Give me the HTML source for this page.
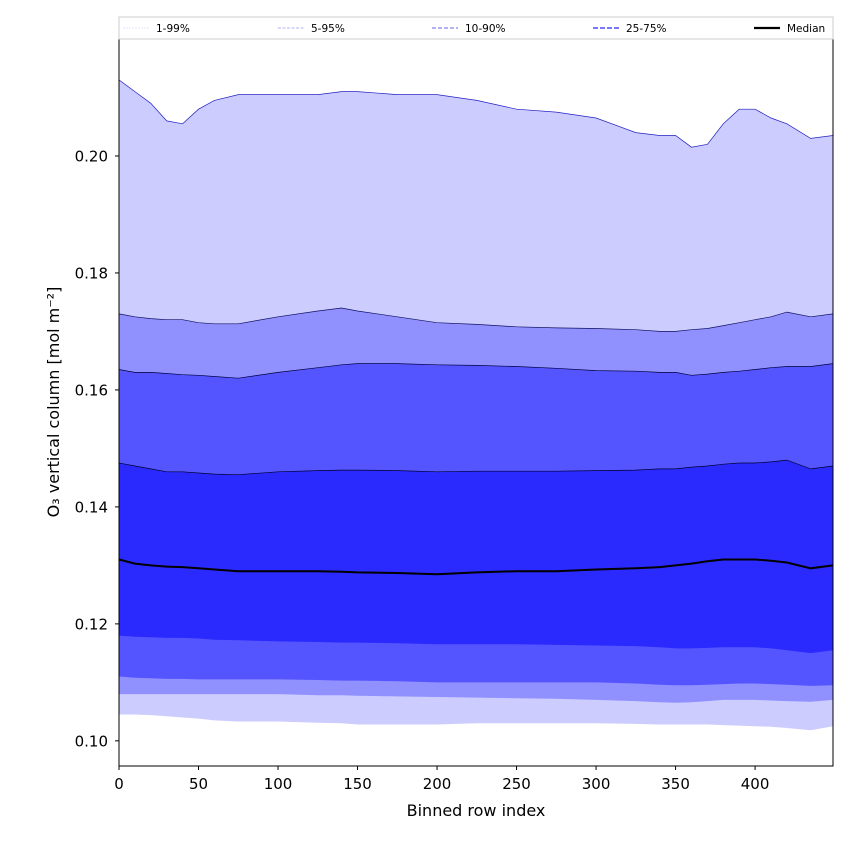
<!DOCTYPE html>
<html><head><meta charset="utf-8"><style>
body{margin:0;background:#fff;font-family:"DejaVu Sans","Liberation Sans",sans-serif;}
svg{display:block}
</style></head><body>
<svg id="chart" width="850" height="850" viewBox="0 0 850 850" xmlns="http://www.w3.org/2000/svg" font-family="DejaVu Sans, Liberation Sans, sans-serif">
<rect width="850" height="850" fill="#fff"/>
<g id="bands"></g>
<g id="axes"></g>
<g id="legend"></g>
</svg>
<script>
const xs = [0,10,20,30,40,50,60,75,100,125,140,150,175,200,225,250,275,300,325,340,350,360,370,380,390,400,410,420,435,449];
const p99 = [0.213,0.211,0.209,0.206,0.2055,0.208,0.2095,0.2105,0.2105,0.2105,0.211,0.211,0.2105,0.2105,0.2095,0.208,0.2075,0.2065,0.204,0.2035,0.2035,0.2015,0.202,0.2055,0.208,0.208,0.2065,0.2055,0.203,0.2035];
const p95 = [0.173,0.1725,0.1722,0.172,0.172,0.1715,0.1713,0.1713,0.1725,0.1735,0.174,0.1735,0.1725,0.1715,0.1712,0.1708,0.1706,0.1705,0.1703,0.170,0.170,0.1703,0.1705,0.171,0.1715,0.172,0.1725,0.1733,0.1725,0.173];
const p90 = [0.1635,0.163,0.163,0.1628,0.1626,0.1625,0.1623,0.162,0.163,0.1638,0.1643,0.1645,0.1645,0.1643,0.1642,0.164,0.1637,0.1633,0.1632,0.163,0.163,0.1625,0.1627,0.163,0.1632,0.1635,0.1638,0.164,0.164,0.1645];
const p75 = [0.1475,0.147,0.1465,0.146,0.146,0.1458,0.1456,0.1455,0.146,0.1462,0.1463,0.1463,0.1462,0.146,0.1461,0.1461,0.1461,0.1462,0.1463,0.1465,0.1465,0.1468,0.147,0.1473,0.1475,0.1475,0.1477,0.148,0.1465,0.147];
const med = [0.131,0.1303,0.130,0.1298,0.1297,0.1295,0.1293,0.129,0.129,0.129,0.1289,0.1288,0.1287,0.1285,0.1288,0.129,0.129,0.1293,0.1295,0.1297,0.130,0.1303,0.1307,0.131,0.131,0.131,0.1308,0.1305,0.1295,0.130];
const p25 = [0.118,0.1178,0.1177,0.1176,0.1176,0.1175,0.1173,0.1172,0.117,0.1169,0.1168,0.1168,0.1167,0.1165,0.1165,0.1165,0.1164,0.1163,0.1162,0.116,0.1158,0.1158,0.1159,0.116,0.116,0.116,0.1158,0.1155,0.115,0.1155];
const p10 = [0.111,0.1108,0.1107,0.1106,0.1106,0.1105,0.1105,0.1105,0.1105,0.1104,0.1103,0.1103,0.1102,0.110,0.110,0.110,0.110,0.110,0.1098,0.1096,0.1095,0.1095,0.1096,0.1097,0.1098,0.1098,0.1097,0.1096,0.1094,0.1095];
const p5 = [0.108,0.108,0.108,0.108,0.108,0.108,0.108,0.108,0.108,0.1078,0.1078,0.1077,0.1076,0.1075,0.1074,0.1073,0.1072,0.107,0.1068,0.1066,0.1065,0.1066,0.1068,0.107,0.107,0.107,0.1069,0.1068,0.1067,0.107];
const p1 = [0.1045,0.1045,0.1044,0.1042,0.104,0.1038,0.1035,0.1033,0.1033,0.1031,0.103,0.1028,0.1028,0.1028,0.103,0.103,0.103,0.103,0.1029,0.1028,0.1028,0.1028,0.1028,0.1027,0.1026,0.1025,0.1024,0.1022,0.1018,0.1025];
const xTicks = [0,50,100,150,200,250,300,350,400];
const yTicks = [0.10,0.12,0.14,0.16,0.18,0.20];
const legendLabels = ["1-99%","5-95%","10-90%","25-75%","Median"];

const L=119,R=833,T=39,B=766;
const xmin=0,xmax=449,ymin=0.0957,ymax=0.2200;
const sx=v=>L+(v-xmin)/(xmax-xmin)*(R-L);
const sy=v=>B-(v-ymin)/(ymax-ymin)*(B-T);
const NS="http://www.w3.org/2000/svg";
function mk(tag,attrs,parent){const e=document.createElementNS(NS,tag);for(const k in attrs)e.setAttribute(k,attrs[k]);parent.appendChild(e);return e;}
const bands=document.getElementById('bands'),axes=document.getElementById('axes'),leg=document.getElementById('legend');

function bandPath(lo,hi){
  let d='M'+xs.map((x,i)=>sx(x).toFixed(1)+','+sy(hi[i]).toFixed(1)).join('L');
  for(let i=xs.length-1;i>=0;i--)d+='L'+sx(xs[i]).toFixed(1)+','+sy(lo[i]).toFixed(1);
  return d+'Z';
}
function linePath(a){return 'M'+xs.map((x,i)=>sx(x).toFixed(1)+','+sy(a[i]).toFixed(1)).join('L');}

const bandDefs=[["band-1-99",p1,p99,"#ccccff"],["band-5-95",p5,p95,"#9090ff"],["band-10-90",p10,p90,"#5555ff"],["band-25-75",p25,p75,"#2a2aff"]];
bandDefs.forEach(b=>{
  const p=mk('path',{d:bandPath(b[1],b[2]),fill:b[3],stroke:'none'},bands);
  
  
});
[["p99-line",p99,"#2020c0"],["p95-line",p95,"#101060"],["p90-line",p90,"#000040"],["p75-line",p75,"#000030"]].forEach(l=>{
  const p=mk('path',{d:linePath(l[1]),fill:'none',stroke:l[2],'stroke-width':0.7},bands);
  
  
});
const mline=mk('path',{d:linePath(med),fill:'none',stroke:'#000','stroke-width':2},bands);



const frame=mk('rect',{x:L,y:T,width:R-L,height:B-T,fill:'none',stroke:'#000','stroke-width':1},axes);


xTicks.forEach(t=>{
  const x=sx(t);
  mk('line',{x1:x,x2:x,y1:B,y2:B+4,stroke:'#000'},axes);
  const tx=mk('text',{x:x,y:B+23,'text-anchor':'middle','font-size':15,fill:'#000'},axes);
  tx.textContent=t;
  
  
});
yTicks.forEach(t=>{
  const y=sy(t);
  mk('line',{x1:L-4,x2:L,y1:y,y2:y,stroke:'#000'},axes);
  const tx=mk('text',{x:L-11,y:y+5.5,'text-anchor':'end','font-size':15,fill:'#000'},axes);
  tx.textContent=t.toFixed(2);
  
  
});
const xl=mk('text',{x:(L+R)/2,y:816,'text-anchor':'middle','font-size':16,fill:'#000'},axes);
xl.textContent='Binned row index';


const yl=mk('text',{x:0,y:0,'text-anchor':'middle','font-size':16,fill:'#000',transform:'translate(59,402) rotate(-90)'},axes);
yl.textContent='O₃ vertical column [mol m⁻²]';



mk('rect',{x:119,y:17,width:714,height:22,fill:'#fff',stroke:'#ccc','stroke-width':1},leg);
const lx=[123,278,432,593,754];
const lstyle=[["#ddddff",0.8,"2,1"],["#9999ee",0.8,"3,1.5"],["#8888ee",1.2,"4,2"],["#6666ff",1.8,"5,2"],["#000",2.2,""]];
legendLabels.forEach((s,i)=>{
  const g=mk('g',{},leg);
  
  
  const a={x1:lx[i],x2:lx[i]+26,y1:28,y2:28,stroke:lstyle[i][0],'stroke-width':lstyle[i][1]};
  if(lstyle[i][2])a['stroke-dasharray']=lstyle[i][2];
  mk('line',a,g);
  const t=mk('text',{x:lx[i]+33,y:32,'font-size':10.5,fill:'#000'},g);
  t.textContent=s;
});
</script>
</body></html>
